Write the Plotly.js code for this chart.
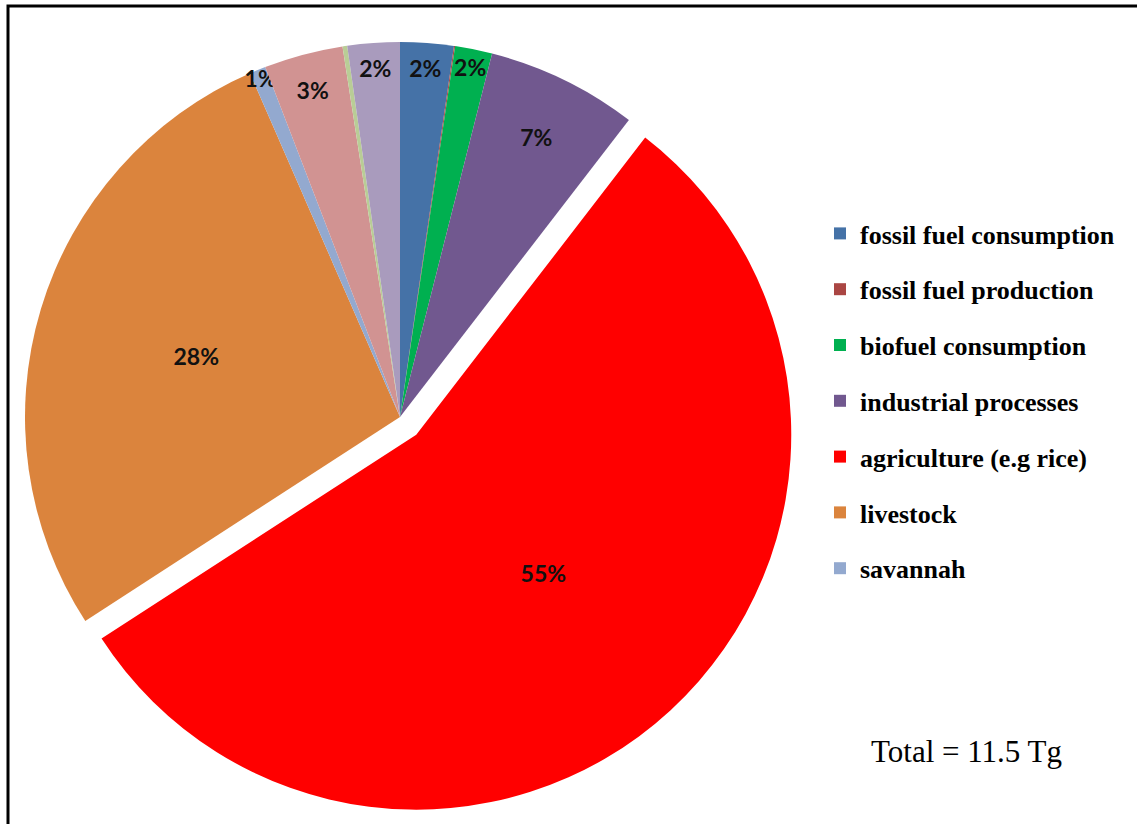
<!DOCTYPE html>
<html>
<head>
<meta charset="utf-8">
<script src="https://cdn.plot.ly/plotly-3.0.1.min.js"></script>
<style>
  html, body { margin: 0; padding: 0; background: #fff; }
  #chart { width: 1137px; height: 824px; }
</style>
</head>
<body>
<div id="chart"></div>
<script>
// Sources of emissions (share of total, %), clockwise from 12 o'clock
const sourceLabels = [
  "fossil fuel consumption",
  "fossil fuel production",
  "biofuel consumption",
  "industrial processes",
  "agriculture (e.g rice)",
  "livestock",
  "savannah",
  "forest",
  "peat",
  "other"
];
const sharePercent = [2.3, 0.05, 1.6, 6.5, 55.4, 27.6, 0.7, 3.4, 0.2, 2.25];
const sliceColors = ["#4572A7", "#AA4643", "#00B050", "#71588F", "#FF0000",
                     "#DB843D", "#93A9CF", "#D19392", "#B9CD96", "#A99BBD"];
const slicePull = [0, 0, 0, 0, 0.064, 0, 0, 0, 0, 0];
const showLabel = [true, false, true, true, true, true, true, true, false, true];
// legend shows the first seven sources only
const legendCount = 7;
const totalText = "Total = 11.5 Tg";

const W = 1137, H = 824;

const pie = {
  type: "pie",
  labels: sourceLabels,
  values: sharePercent,
  sort: false,
  direction: "clockwise",
  rotation: 0,
  pull: slicePull,
  marker: { colors: sliceColors, line: { width: 0 } },
  texttemplate: showLabel.map(s => s ? "%{percent:.0%}" : ""),
  textposition: "inside",
  insidetextorientation: "horizontal",
  textfont: { family: "Lato, 'Liberation Sans', sans-serif", size: 23, color: "#111", weight: "bold" },
  hoverinfo: "label+percent",
  showlegend: false,
  domain: { x: [1 / W, 799 / W], y: [1 - 816 / H, 1 - 18 / H] }
};

const legendTraces = sourceLabels.slice(0, legendCount).map((name, i) => ({
  type: "scatter",
  mode: "markers",
  x: [null], y: [null],
  name: name,
  legendgroup: "g" + i,
  marker: { symbol: "square", size: 12, color: sliceColors[i] },
  showlegend: true,
  hoverinfo: "skip"
}));

const layout = {
  width: W, height: H,
  margin: { l: 0, r: 0, t: 0, b: 0 },
  paper_bgcolor: "#fff",
  plot_bgcolor: "rgba(0,0,0,0)",
  xaxis: { visible: false, domain: [0.9, 1] },
  yaxis: { visible: false, domain: [0.9, 1] },
  uniformtext: { minsize: 23, mode: "show" },
  showlegend: true,
  legend: {
    x: 820 / W, xanchor: "left",
    y: 1 - 210 / H, yanchor: "top",
    traceorder: "grouped",
    tracegroupgap: 19,
    font: { family: "'Liberation Serif', 'Times New Roman', serif", size: 26, color: "#000", weight: "bold" },
    bgcolor: "rgba(0,0,0,0)",
    itemclick: false, itemdoubleclick: false
  },
  annotations: [{
    xref: "paper", yref: "paper",
    x: 966 / W, y: 1 - 751 / H,
    xanchor: "center", yanchor: "middle",
    text: totalText, showarrow: false,
    font: { family: "'Liberation Serif', 'Times New Roman', serif", size: 31, color: "#000" }
  }],
  shapes: [{
    type: "rect", xref: "paper", yref: "paper",
    x0: 8 / W, x1: 1.05, y0: -0.05, y1: 1 - 6 / H,
    line: { color: "#000", width: 3 }, fillcolor: "rgba(0,0,0,0)"
  }]
};

Plotly.newPlot("chart", [pie].concat(legendTraces), layout, { displayModeBar: false, staticPlot: true });
</script>
</body>
</html>
